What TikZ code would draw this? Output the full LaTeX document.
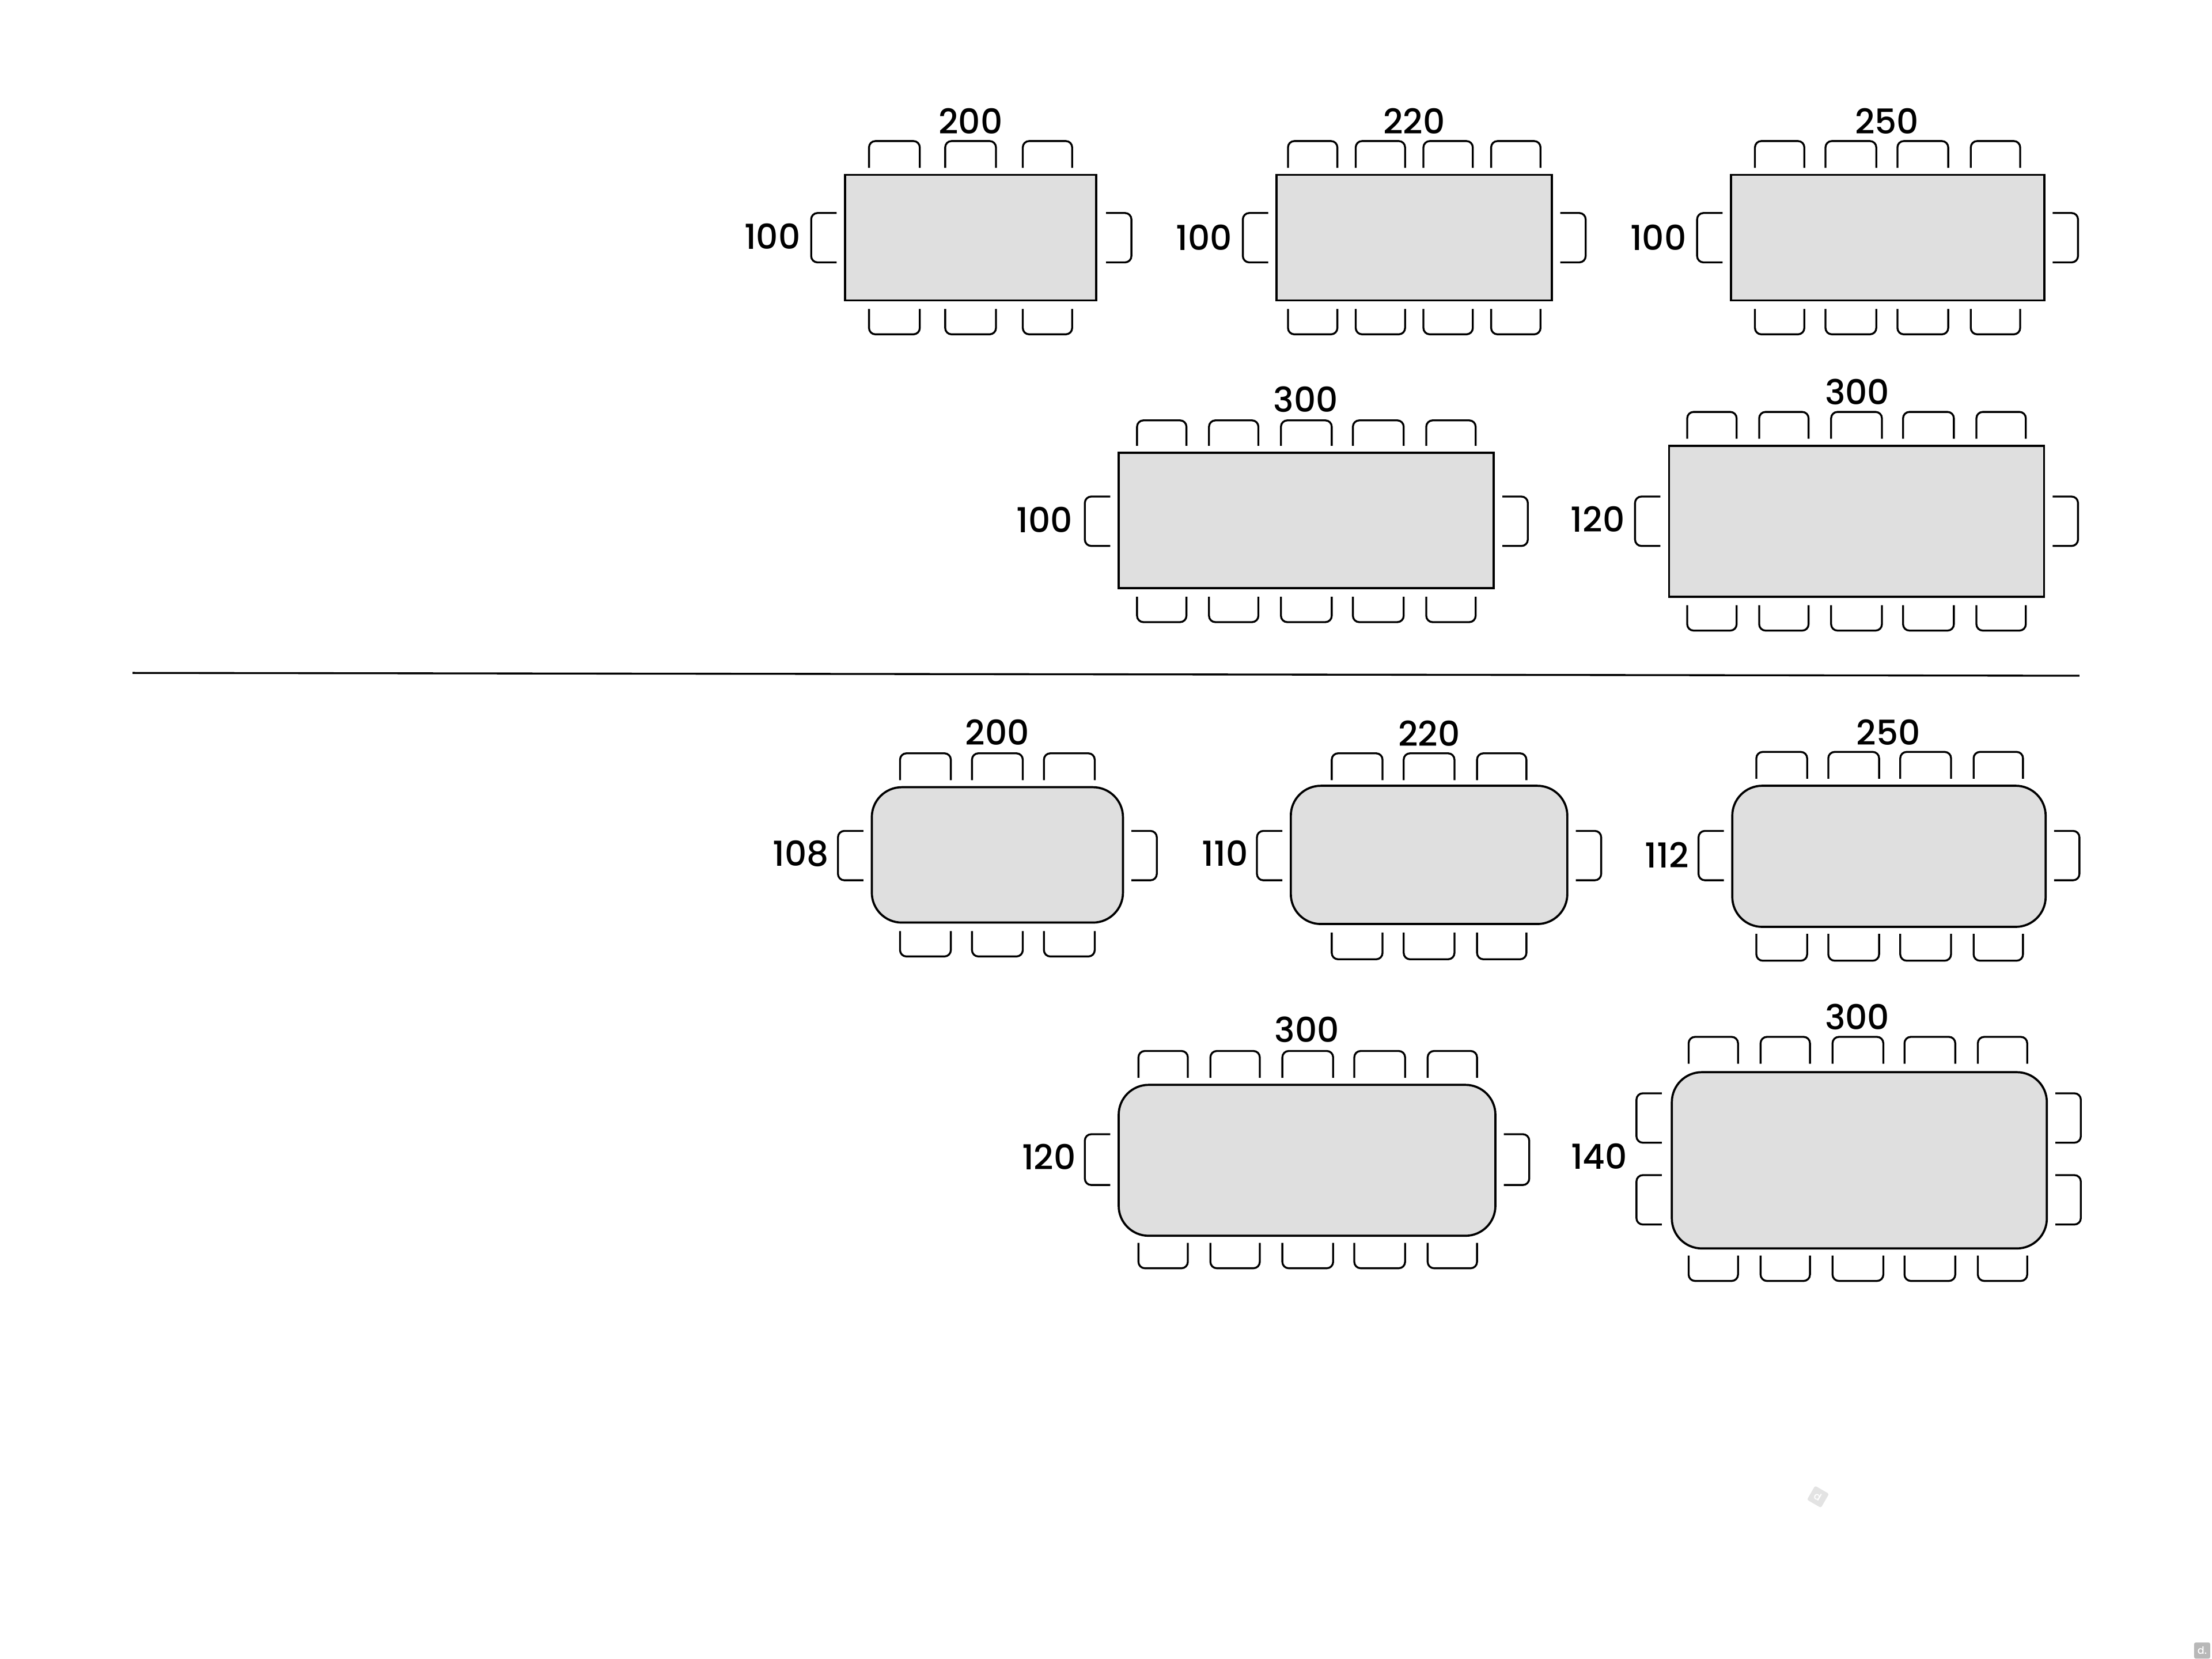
\documentclass[tikz,border=0pt]{standalone}
\usepackage{fontspec}
\setmainfont{Poppins}[UprightFont=* Medium]
\definecolor{topgrey}{HTML}{DFDFDF}
\tikzset{
  tablebox/.style={draw=black,fill=topgrey,line width=1.05pt,inner sep=0pt},
  squaretop/.style={tablebox,sharp corners},
  roundtop/.style={tablebox,rounded corners=0.52cm},
  chairline/.style={draw=black,line width=0.95pt,rounded corners=0.11cm},
  sizelabel/.style={inner sep=0pt,font=\fontsize{17}{17}\selectfont,text=black},
  logotile/.style={inner sep=0pt,rounded corners=0.03cm,font=\fontsize{5}{5}\selectfont,text=white,minimum size=0.28cm}
}
% a chair along a table edge: two ends, then open side and closed side
\newcommand{\hchair}[4]{\draw[chairline] (#1,#3) -- (#1,#4) -- (#2,#4) -- (#2,#3);}
\newcommand{\vchair}[4]{\draw[chairline] (#3,#1) -- (#4,#1) -- (#4,#2) -- (#3,#2);}
\begin{document}
\begin{tikzpicture}[x=0.02449cm,y=-0.02449cm]
  \useasboundingbox (0,0) rectangle (1568,1176);

  % rectangular tops, first row
  \node[squaretop,minimum width=4.36cm,minimum height=2.18cm] (rect200) at (688,168.5) {};
  \node[sizelabel] (rect200w) at (688,86) {200};
  \node[sizelabel] (rect200h) at (547.5,167.5) {100};
  \hchair{616}{652}{119}{100} \hchair{670}{706}{119}{100} \hchair{725}{760}{119}{100}
  \hchair{616}{652}{219}{237} \hchair{670}{706}{219}{237} \hchair{725}{760}{219}{237}
  \vchair{151}{186}{593}{575} \vchair{151}{186}{784}{802}

  \node[squaretop,minimum width=4.78cm,minimum height=2.18cm] (rect220) at (1002.5,168.5) {};
  \node[sizelabel] (rect220w) at (1002.5,86) {220};
  \node[sizelabel] (rect220h) at (853.5,168.5) {100};
  \hchair{913}{948}{119}{100} \hchair{961}{996}{119}{100} \hchair{1009}{1044}{119}{100} \hchair{1057}{1092}{119}{100}
  \hchair{913}{948}{219}{237} \hchair{961}{996}{219}{237} \hchair{1009}{1044}{219}{237} \hchair{1057}{1092}{219}{237}
  \vchair{151}{186}{899}{881} \vchair{151}{186}{1106}{1124}

  \node[squaretop,minimum width=5.44cm,minimum height=2.18cm] (rect250) at (1338,168.5) {};
  \node[sizelabel] (rect250w) at (1337.5,86) {250};
  \node[sizelabel] (rect250h) at (1175.5,168.5) {100};
  \hchair{1244}{1279}{119}{100} \hchair{1294}{1330}{119}{100} \hchair{1345}{1381}{119}{100} \hchair{1397}{1432}{119}{100}
  \hchair{1244}{1279}{219}{237} \hchair{1294}{1330}{219}{237} \hchair{1345}{1381}{219}{237} \hchair{1397}{1432}{219}{237}
  \vchair{151}{186}{1221}{1203} \vchair{151}{186}{1455}{1473}

  % rectangular tops, second row
  \node[squaretop,minimum width=6.51cm,minimum height=2.35cm] (rect300a) at (926,369) {};
  \node[sizelabel] (rect300aw) at (925.5,283) {300};
  \node[sizelabel] (rect300ah) at (740.5,368.5) {100};
  \hchair{806}{841}{316}{298} \hchair{857}{892}{316}{298} \hchair{908}{944}{316}{298} \hchair{959}{995}{316}{298} \hchair{1011}{1046}{316}{298}
  \hchair{806}{841}{423}{441} \hchair{857}{892}{423}{441} \hchair{908}{944}{423}{441} \hchair{959}{995}{423}{441} \hchair{1011}{1046}{423}{441}
  \vchair{352}{387}{787}{769} \vchair{352}{387}{1065}{1083}

  \node[squaretop,minimum width=6.51cm,minimum height=2.62cm] (rect300b) at (1316,369.5) {};
  \node[sizelabel] (rect300bw) at (1316.5,278) {300};
  \node[sizelabel] (rect300bh) at (1132.5,368) {120};
  \hchair{1196}{1231}{311}{292} \hchair{1247}{1282}{311}{292} \hchair{1298}{1334}{311}{292} \hchair{1349}{1385}{311}{292} \hchair{1401}{1436}{311}{292}
  \hchair{1196}{1231}{429}{447} \hchair{1247}{1282}{429}{447} \hchair{1298}{1334}{429}{447} \hchair{1349}{1385}{429}{447} \hchair{1401}{1436}{429}{447}
  \vchair{352}{387}{1177}{1159} \vchair{352}{387}{1455}{1473}

  % divider
  \coordinate (divleft) at (94,477);
  \coordinate (divright) at (1474,479);
  \draw[line width=0.95pt] (divleft) -- (divright);

  % rounded tops, first row
  \node[roundtop,minimum width=4.36cm,minimum height=2.35cm] (round200) at (707,606) {};
  \node[sizelabel] (round200w) at (707,519) {200};
  \node[sizelabel] (round200h) at (567.5,605) {108};
  \hchair{638}{674}{553}{534} \hchair{689}{725}{553}{534} \hchair{740}{776}{553}{534}
  \hchair{638}{674}{660}{678} \hchair{689}{725}{660}{678} \hchair{740}{776}{660}{678}
  \vchair{589}{624}{612}{594} \vchair{589}{624}{802}{820}

  \node[roundtop,minimum width=4.8cm,minimum height=2.4cm] (round220) at (1013,606) {};
  \node[sizelabel] (round220w) at (1013,520) {220};
  \node[sizelabel] (round220h) at (868.5,605) {110};
  \hchair{944}{980}{553}{534} \hchair{995}{1031}{553}{534} \hchair{1047}{1082}{553}{534}
  \hchair{944}{980}{661}{680} \hchair{995}{1031}{661}{680} \hchair{1047}{1082}{661}{680}
  \vchair{589}{624}{909}{891} \vchair{589}{624}{1117}{1135}

  \node[roundtop,minimum width=5.44cm,minimum height=2.45cm] (round250) at (1339,607) {};
  \node[sizelabel] (round250w) at (1338.5,519) {250};
  \node[sizelabel] (round250h) at (1181.5,606) {112};
  \hchair{1245}{1281}{552}{533} \hchair{1296}{1332}{552}{533} \hchair{1347}{1383}{552}{533} \hchair{1399}{1434}{552}{533}
  \hchair{1245}{1281}{662}{681} \hchair{1296}{1332}{662}{681} \hchair{1347}{1383}{662}{681} \hchair{1399}{1434}{662}{681}
  \vchair{589}{624}{1222}{1204} \vchair{589}{624}{1456}{1474}

  % rounded tops, second row
  \node[roundtop,minimum width=6.54cm,minimum height=2.62cm] (round300a) at (926.5,822.5) {};
  \node[sizelabel] (round300aw) at (926.5,730) {300};
  \node[sizelabel] (round300ah) at (743.5,820) {120};
  \hchair{807}{842}{764}{745} \hchair{858}{893}{764}{745} \hchair{909}{945}{764}{745} \hchair{960}{996}{764}{745} \hchair{1012}{1047}{764}{745}
  \hchair{807}{842}{881}{899} \hchair{858}{893}{881}{899} \hchair{909}{945}{881}{899} \hchair{960}{996}{881}{899} \hchair{1012}{1047}{881}{899}
  \vchair{804}{840}{787}{769} \vchair{804}{840}{1066}{1084}

  \node[roundtop,minimum width=6.51cm,minimum height=3.06cm] (round300b) at (1318,822.5) {};
  \node[sizelabel] (round300bw) at (1316.5,721) {300};
  \node[sizelabel] (round300bh) at (1133.5,819.5) {140};
  \hchair{1197}{1232}{754}{735} \hchair{1248}{1283}{754}{735} \hchair{1299}{1335}{754}{735} \hchair{1350}{1386}{754}{735} \hchair{1402}{1437}{754}{735}
  \hchair{1197}{1232}{890}{908} \hchair{1248}{1283}{890}{908} \hchair{1299}{1335}{890}{908} \hchair{1350}{1386}{890}{908} \hchair{1402}{1437}{890}{908}
  \vchair{775}{810}{1178}{1160} \vchair{833}{868}{1178}{1160}
  \vchair{775}{810}{1457}{1475} \vchair{833}{868}{1457}{1475}

  % small logo marks
  \node[logotile,fill=black!11,rotate=-30] (logomid) at (1288.7,1061) {d};
  \node[logotile,fill=black!28] (logocorner) at (1561,1170) {d.};
\end{tikzpicture}
\end{document}
